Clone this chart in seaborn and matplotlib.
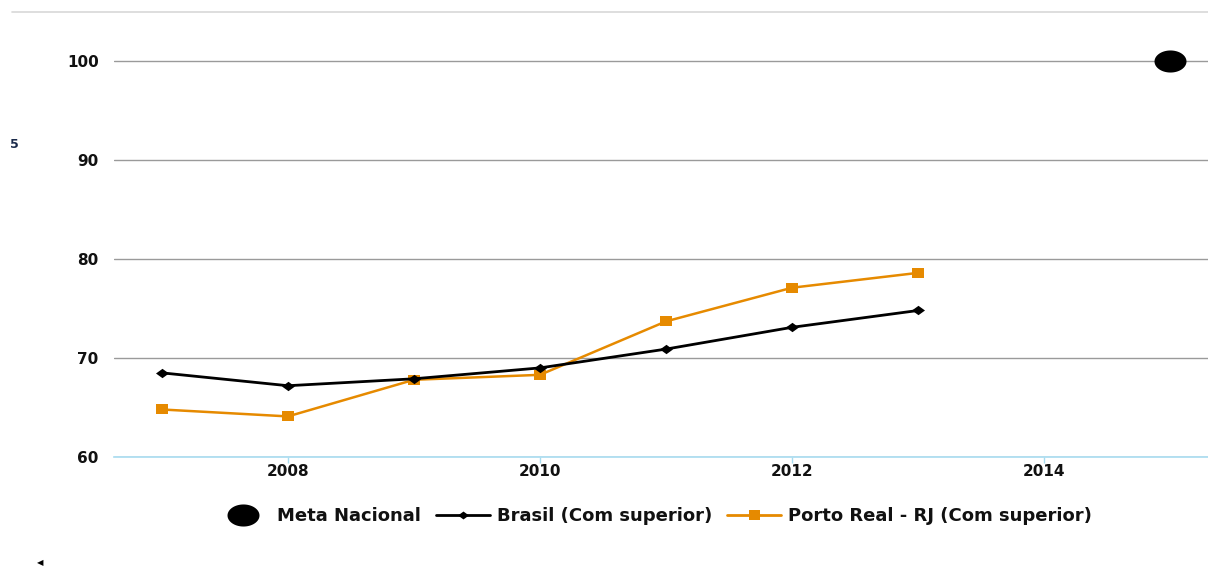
import matplotlib
matplotlib.use("Agg")
import matplotlib.pyplot as plt
from matplotlib.lines import Line2D
from matplotlib.path import Path
import seaborn as sns
import pandas as pd
import numpy as np

years = [2007, 2008, 2009, 2010, 2011, 2012, 2013]
brasil = [68.5, 67.2, 67.9, 69.0, 70.9, 73.1, 74.8]
porto_real = [64.8, 64.1, 67.8, 68.3, 73.7, 77.1, 78.6]
meta_year = [2015]
meta_value = [100]

yticks = [60, 70, 80, 90, 100]
xticks = [2008, 2010, 2012, 2014]


def ellipse_marker(wx, hy):
    t = np.linspace(0, 2 * np.pi, 64)
    verts = np.column_stack([wx * np.cos(t), hy * np.sin(t)])
    return Path(verts, closed=True)


def diamond_marker(wx, hy):
    return Path([(0, hy), (wx, 0), (0, -hy), (-wx, 0), (0, hy)], closed=True)


def rect_marker(wx, hy):
    return Path([(-wx, -hy), (wx, -hy), (wx, hy), (-wx, hy), (-wx, -hy)], closed=True)


oval = ellipse_marker(1.0, 0.69)
wide_diamond = diamond_marker(1.0, 0.72)
wide_square = rect_marker(1.0, 0.85)

PX = 72 / 100  # points per pixel at 100 dpi

sns.set_theme(style="white")
plt.rcParams['font.family'] = ['DejaVu Sans']

fig = plt.figure(figsize=(12.08, 5.67), dpi=100)
ax = fig.add_axes([114 / 1208, 1 - 457 / 567, (1208 - 114) / 1208, (457 - 11.5) / 567])

orange = "#E68A00"
df_b = pd.DataFrame({"ano": years, "valor": brasil})
df_p = pd.DataFrame({"ano": years, "valor": porto_real})

for y in yticks:
    ax.axhline(y, color="#9a9a9a", lw=1.0, zorder=0)

sns.lineplot(data=df_b, x="ano", y="valor", ax=ax, color="black", lw=2.0,
             marker=wide_diamond, markersize=13 * PX, markeredgewidth=0,
             markerfacecolor="black", zorder=3)
sns.lineplot(data=df_p, x="ano", y="valor", ax=ax, color=orange, lw=1.8,
             marker=wide_square, markersize=12 * PX, markeredgewidth=0,
             markerfacecolor=orange, zorder=2)
ax.plot(meta_year, meta_value, linestyle="none", marker=oval, markersize=32 * PX,
        color="black", markeredgewidth=0, zorder=4, clip_on=False)

ax.set_xlim(2006.62, 2015.3)
ax.set_ylim(60, 105)
ax.set_xticks(xticks)
ax.set_xticklabels([str(x) for x in xticks])
ax.set_yticks(yticks)
ax.set_yticklabels([str(y) for y in yticks])
ax.set_xlabel("")
ax.set_ylabel("")

for s in ["top", "right", "left"]:
    ax.spines[s].set_visible(False)
ax.spines["bottom"].set_color("#a8dcf0")
ax.spines["bottom"].set_linewidth(1.2)
ax.tick_params(axis="x", bottom=True, length=4, color="#a8dcf0", width=1,
               labelsize=11, labelcolor="#111111", pad=1)
ax.tick_params(axis="y", left=False, length=0, labelsize=11,
               labelcolor="#111111", pad=11)
for lbl in ax.get_xticklabels() + ax.get_yticklabels():
    lbl.set_fontweight("bold")

# thin frame line across the top
fig.add_artist(Line2D([12 / 1208, 1], [1 - 12 / 567, 1 - 12 / 567],
                      color="#d8d8d8", lw=1.2, transform=fig.transFigure))
fig.text(10 / 1208, 1 - 145 / 567, "5", fontsize=9, color="#1a2a4a",
         fontweight="bold", ha="left", va="center")
fig.text(40 / 1208, 1 - 563 / 567, "◀", fontsize=6, color="black",
         ha="center", va="center")

handles = [
    Line2D([], [], color="black", marker=oval, linestyle="none",
           markersize=32 * PX, markeredgewidth=0),
    Line2D([], [], color="black", lw=2, marker=wide_diamond,
           markersize=11 * PX, markeredgewidth=0),
    Line2D([], [], color=orange, lw=2, marker=wide_square,
           markersize=11 * PX, markeredgewidth=0),
]
labels = ["Meta Nacional", "Brasil (Com superior)", "Porto Real - RJ (Com superior)"]
fig.legend(handles, labels, loc="center", bbox_to_anchor=(654 / 1208, 1 - 516 / 567),
           ncol=3, frameon=False, prop={"size": 13, "weight": "bold"},
           handlelength=3.0, handletextpad=0.4, columnspacing=0.8,
           labelcolor="#111111")

fig.savefig("out.png", dpi=100)
